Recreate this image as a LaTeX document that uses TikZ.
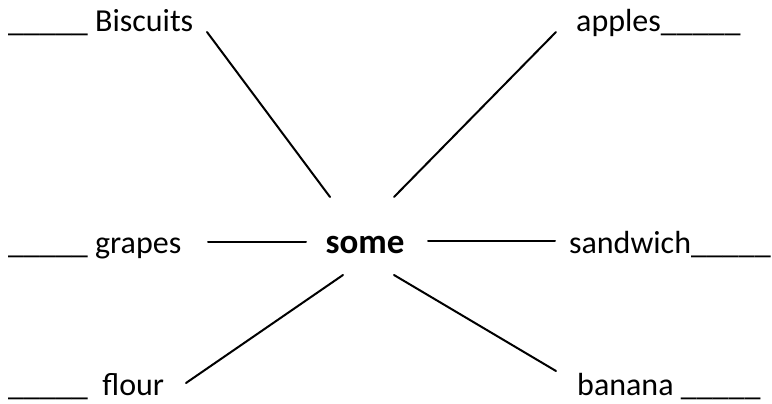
\documentclass[tikz,border=0pt]{standalone}
\usepackage{fontspec}
\setmainfont{Carlito}
\begin{document}
\begin{tikzpicture}[x=1pt,y=-1pt,
  lbl/.style={anchor=base west,inner sep=0pt,font=\fontsize{32}{37}\selectfont},
  hub/.style={anchor=base,inner sep=0pt,font=\fontsize{35}{40}\selectfont\bfseries},
  conn/.style={line width=2pt,line cap=round}]
\useasboundingbox (0,0) rectangle (772,404);
% labels
\node[lbl] (biscuits) at (8,32) {\_\_\_\_\_ Biscuits};
\node[lbl] (apples) at (576,32) {apples\_\_\_\_\_};
\node[lbl] (grapes) at (8,253) {\_\_\_\_\_ grapes};
\node[lbl,anchor=base east] (sandwich) at (771,253) {sandwich\_\_\_\_\_};
\node[lbl] (flour) at (8,395) {\_\_\_\_\_\ \ flour};
\node[lbl] (banana) at (577,395) {banana \_\_\_\_\_};
\node[hub] (some) at (365,253) {some};
% connector end points
\coordinate (b1) at (207,32);  \coordinate (b2) at (330,197);
\coordinate (a1) at (556,32);  \coordinate (a2) at (394,197);
\coordinate (g1) at (208,242); \coordinate (g2) at (306,242);
\coordinate (s1) at (428,241); \coordinate (s2) at (555,241);
\coordinate (f1) at (186,383); \coordinate (f2) at (343,275);
\coordinate (n1) at (394,275); \coordinate (n2) at (556,371);
\draw[conn] (b1) -- (b2);
\draw[conn] (a1) -- (a2);
\draw[conn] (g1) -- (g2);
\draw[conn] (s1) -- (s2);
\draw[conn] (f1) -- (f2);
\draw[conn] (n1) -- (n2);
\end{tikzpicture}
\end{document}
